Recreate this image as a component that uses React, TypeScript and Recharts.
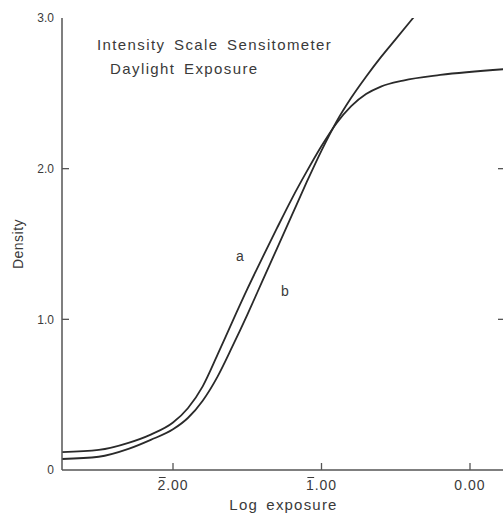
import React from 'react';
import { LineChart, Line, XAxis, YAxis, ReferenceDot } from 'recharts';

// Curve a: higher in the toe, flattens into a shoulder
const curveA = [
  { x: -2.747, d: 0.119 },
  { x: -2.5, d: 0.133 },
  { x: -2.3, d: 0.18 },
  { x: -2.15, d: 0.235 },
  { x: -2.0, d: 0.315 },
  { x: -1.9, d: 0.41 },
  { x: -1.8, d: 0.555 },
  { x: -1.7, d: 0.765 },
  { x: -1.6, d: 0.985 },
  { x: -1.5, d: 1.2 },
  { x: -1.4, d: 1.405 },
  { x: -1.3, d: 1.605 },
  { x: -1.2, d: 1.8 },
  { x: -1.1, d: 1.98 },
  { x: -1.0, d: 2.15 },
  { x: -0.9, d: 2.3 },
  { x: -0.8, d: 2.415 },
  { x: -0.7, d: 2.495 },
  { x: -0.6, d: 2.545 },
  { x: -0.45, d: 2.585 },
  { x: -0.2, d: 2.622 },
  { x: 0.236, d: 2.661 },
];

// Curve b: lower in the toe, steeper, runs off the top
const curveB = [
  { x: -2.747, d: 0.073 },
  { x: -2.5, d: 0.088 },
  { x: -2.3, d: 0.14 },
  { x: -2.15, d: 0.2 },
  { x: -2.0, d: 0.27 },
  { x: -1.9, d: 0.345 },
  { x: -1.8, d: 0.46 },
  { x: -1.7, d: 0.62 },
  { x: -1.6, d: 0.82 },
  { x: -1.5, d: 1.03 },
  { x: -1.4, d: 1.25 },
  { x: -1.3, d: 1.47 },
  { x: -1.2, d: 1.69 },
  { x: -1.1, d: 1.91 },
  { x: -1.0, d: 2.12 },
  { x: -0.9, d: 2.31 },
  { x: -0.8, d: 2.47 },
  { x: -0.7, d: 2.61 },
  { x: -0.6, d: 2.74 },
  { x: -0.5, d: 2.86 },
  { x: -0.4, d: 2.98 },
  { x: -0.3, d: 3.1 },
];

const xDomain = [-2.7475, 0.2357];
const yDomain = [0, 3];
const xTicks = [-2, -1, 0];
const xTickLabels = ['2.00', '1.00', '0.00'];
const xTickBarred = [true, true, false];
const yTicks = [0, 1, 2, 3];
const yTickLabels = ['0', '1.0', '2.0', '3.0'];

const curveLabels = [
  { x: -1.576, d: 1.419, text: 'a' },
  { x: -1.273, d: 1.186, text: 'b' },
];
const titleLines = [
  { x: -2.512, d: 2.82, text: 'Intensity Scale Sensitometer' },
  { x: -2.424, d: 2.661, text: 'Daylight Exposure' },
];

const INK = '#3a3a3a';
const AXIS = '#555';
const FONT = 'Liberation Sans, Arial, sans-serif';

const LeftTick = (props: any) => {
  const { x, y, payload } = props;
  const i = yTicks.indexOf(payload.value);
  const showMark = payload.value !== 0 && payload.value !== 3;
  return (
    <g>
      <text x={x} y={y} dy="0.36em" textAnchor="end" fill={INK} fontSize={12} fontFamily={FONT}>
        {yTickLabels[i]}
      </text>
      {showMark && <line x1={x + 8} x2={x + 15} y1={y} y2={y} stroke={AXIS} strokeWidth={1.3} />}
    </g>
  );
};

const RightTick = (props: any) => {
  const { x, y, payload } = props;
  if (payload.value === 0 || payload.value === 3) return <g />;
  return <line x1={x - 7} x2={x} y1={y} y2={y} stroke={AXIS} strokeWidth={1.3} />;
};

const TopTick = (props: any) => {
  const { x, y } = props;
  return <line x1={x} x2={x} y1={y} y2={y + 7} stroke={AXIS} strokeWidth={1.3} />;
};

const BottomTick = (props: any) => {
  const { x, y, payload } = props;
  const i = xTicks.indexOf(payload.value);
  const fs = 14;
  const ls = 1;
  const digitW = fs * 0.556;
  const totalW = fs * (0.556 * 3 + 0.278) + ls * 3;
  const left = x - totalW / 2;
  return (
    <g>
      <line x1={x} x2={x} y1={y - 7} y2={y} stroke={AXIS} strokeWidth={1.3} />
      <text
        x={x}
        y={y + 20}
        textAnchor="middle"
        fill={INK}
        fontSize={fs}
        fontFamily={FONT}
        style={{ letterSpacing: `${ls}px` }}
      >
        {xTickLabels[i]}
      </text>
      {xTickBarred[i] && (
        <line x1={left + 1} x2={left + digitW} y1={y + 7.5} y2={y + 7.5} stroke={INK} strokeWidth={1} />
      )}
    </g>
  );
};

export default function App() {
  return (
    <div style={{ position: 'fixed', left: 0, top: 0, width: 503, height: 513, overflow: 'hidden', background: '#fff' }}>
      <LineChart
        width={510}
        height={513}
        margin={{ top: 18, right: 0, bottom: 13, left: 12 }}
        style={{ fontFamily: FONT }}
      >
        <XAxis
          dataKey="x"
          type="number"
          domain={xDomain}
          allowDataOverflow
          ticks={xTicks}
          tick={<BottomTick />}
          tickLine={false}
          tickSize={0}
          tickMargin={0}
          height={30}
          axisLine={{ stroke: AXIS, strokeWidth: 1.5 }}
          interval={0}
          label={{ value: 'Log exposure', position: 'insideBottom', offset: -10, fill: INK, fontSize: 15, style: { letterSpacing: '1.2px', wordSpacing: '3px' } }}
        />
        <XAxis
          xAxisId="top"
          orientation="top"
          dataKey="x"
          type="number"
          domain={xDomain}
          allowDataOverflow
          ticks={xTicks}
          tick={<TopTick />}
          tickLine={false}
          tickSize={0}
          tickMargin={0}
          height={0}
          axisLine={{ stroke: AXIS, strokeWidth: 1.5 }}
          interval={0}
        />
        <YAxis
          type="number"
          domain={yDomain}
          allowDataOverflow
          ticks={yTicks}
          tick={<LeftTick />}
          tickLine={false}
          tickSize={0}
          tickMargin={8}
          width={50}
          axisLine={{ stroke: AXIS, strokeWidth: 1.5 }}
          interval={0}
          label={{ value: 'Density', angle: -90, position: 'insideLeft', offset: 6, fill: INK, fontSize: 14, style: { textAnchor: 'middle', letterSpacing: '0.5px' } }}
        />
        <YAxis
          yAxisId="right"
          orientation="right"
          type="number"
          domain={yDomain}
          allowDataOverflow
          ticks={yTicks}
          tick={<RightTick />}
          tickLine={false}
          tickSize={0}
          tickMargin={0}
          width={5}
          axisLine={{ stroke: AXIS, strokeWidth: 1.5 }}
          interval={0}
        />
        <Line
          data={curveA}
          dataKey="d"
          type="monotone"
          stroke="#2a2a2a"
          strokeWidth={1.8}
          dot={false}
          isAnimationActive={false}
        />
        <Line
          data={curveB}
          dataKey="d"
          type="monotone"
          stroke="#2a2a2a"
          strokeWidth={1.8}
          dot={false}
          isAnimationActive={false}
        />
        {curveLabels.map((l) => (
          <ReferenceDot
            key={l.text}
            x={l.x}
            y={l.d}
            r={0}
            fill="none"
            stroke="none"
            label={{ value: l.text, position: 'right', offset: 0, fill: INK, fontSize: 14 }}
          />
        ))}
        {titleLines.map((l) => (
          <ReferenceDot
            key={l.text}
            x={l.x}
            y={l.d}
            r={0}
            fill="none"
            stroke="none"
            label={{ value: l.text, position: 'right', offset: 0, fill: INK, fontSize: 15, style: { letterSpacing: '1.4px', wordSpacing: '3px' } }}
          />
        ))}
      </LineChart>
    </div>
  );
}
